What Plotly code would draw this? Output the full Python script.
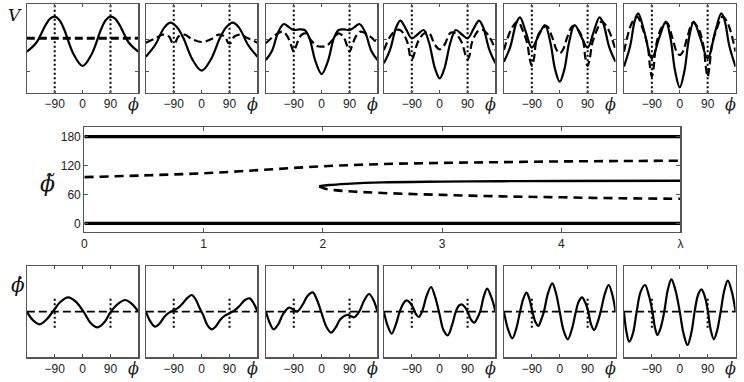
import plotly.graph_objects as go

# ---------------- data ----------------
phi_ticks = [-90, 0, 90]
phi_tick_text = ["\u221290", "0", "90"]
guide_phi = [-90, 90]
guide_span_bottom = [-4.8, 4.2]

# top row: V(phi) solid and dashed, six values of lambda
V1_phi = [-180, -150, -120, -105, -90, -75, -60, -30, 0, 30, 60, 75, 90, 105, 120, 150, 180]
V1_sol = [12.5, 15.1, 20.4, 22.4, 23.0, 22.0, 19.3, 11.9, 8.2, 11.9, 19.3, 22.0, 23.0, 22.4, 20.4, 15.1, 12.5]
V1d_phi = [-180, 180]
V1_dash = [16.5, 16.5]

V2_phi = [-180, -150, -120, -100, -80, -60, -30, 0, 30, 60, 80, 100, 120, 150, 180]
V2_sol = [11.0, 14.5, 19.8, 21.2, 19.9, 16.8, 10.2, 6.8, 10.2, 16.8, 19.9, 21.2, 19.8, 14.5, 11.0]
V2d_phi = [-180, -150, -125, -105, -95, -90, -85, -75, -55, -30, 0, 30, 55, 75, 85, 90, 95, 105, 125, 150, 180]
V2_dash = [15.2, 16.5, 17.6, 17.0, 15.2, 15.0, 15.2, 17.0, 17.6, 16.2, 15.4, 16.2, 17.6, 17.0, 15.2, 15.0, 15.2, 17.0, 17.6, 16.5, 15.2]

V3_phi = [-180, -160, -140, -122, -105, -90, -72, -55, -40, -20, 0, 20, 40, 55, 72, 90, 105, 122, 140, 160, 180]
V3_sol = [10.0, 12.8, 18.4, 20.8, 19.8, 19.0, 19.2, 19.0, 16.7, 9.6, 5.8, 9.6, 16.7, 19.0, 19.2, 19.0, 19.8, 20.8, 18.4, 12.8, 10.0]
V3d_phi = [-180, -150, -125, -110, -97, -90, -83, -70, -55, -35, -15, 0, 15, 35, 55, 70, 83, 90, 97, 110, 125, 150, 180]
V3_dash = [15.0, 17.5, 18.5, 17.0, 14.0, 12.5, 14.0, 17.0, 18.0, 16.0, 14.2, 14.0, 14.2, 16.0, 18.0, 17.0, 14.0, 12.5, 14.0, 17.0, 18.5, 17.5, 15.0]

V4_phi = [-180, -160, -140, -127, -110, -90, -70, -52, -35, -15, 0, 15, 35, 52, 70, 90, 110, 127, 140, 160, 180]
V4_sol = [9.0, 13.1, 19.9, 21.8, 19.5, 16.5, 17.8, 19.0, 15.4, 7.4, 4.5, 7.4, 15.4, 19.0, 17.8, 16.5, 19.5, 21.8, 19.9, 13.1, 9.0]
V4d_phi = [-180, -160, -140, -125, -105, -95, -90, -85, -70, -50, -35, -15, 0, 15, 35, 50, 70, 85, 90, 95, 105, 125, 140, 160, 180]
V4_dash = [13.0, 17.0, 19.0, 18.8, 15.5, 11.0, 10.2, 11.0, 15.5, 18.0, 18.2, 14.5, 13.2, 14.5, 18.2, 18.0, 15.5, 11.0, 10.2, 11.0, 15.5, 18.8, 19.0, 17.0, 13.0]

V5_phi = [-180, -160, -140, -128, -110, -90, -70, -48, -30, -15, 0, 15, 30, 48, 70, 90, 110, 128, 140, 160, 180]
V5_sol = [9.5, 13.8, 21.1, 22.8, 18.6, 13.7, 16.9, 20.5, 15.2, 7.2, 3.5, 7.2, 15.2, 20.5, 16.9, 13.7, 18.6, 22.8, 21.1, 13.8, 9.5]
V5d_phi = [-180, -155, -135, -120, -105, -97, -90, -83, -75, -60, -42, -25, -10, 0, 10, 25, 42, 60, 75, 83, 90, 97, 105, 120, 135, 155, 180]
V5_dash = [13.0, 19.5, 21.5, 19.0, 15.0, 10.5, 8.2, 10.5, 16.0, 19.0, 20.2, 17.0, 13.0, 12.0, 13.0, 17.0, 20.2, 19.0, 16.0, 10.5, 8.2, 10.5, 15.0, 19.0, 21.5, 19.5, 13.0]

V6_phi = [-180, -160, -145, -134, -115, -90, -65, -45, -30, -15, 0, 15, 30, 45, 65, 90, 115, 134, 145, 160, 180]
V6_sol = [8.0, 14.2, 21.8, 24.0, 18.7, 10.5, 17.0, 21.5, 16.6, 6.7, 1.8, 6.7, 16.6, 21.5, 17.0, 10.5, 18.7, 24.0, 21.8, 14.2, 8.0]
V6d_phi = [-180, -155, -138, -120, -103, -96, -90, -84, -77, -60, -42, -25, -10, 0, 10, 25, 42, 60, 77, 84, 90, 96, 103, 120, 138, 155, 180]
V6_dash = [12.5, 21.0, 23.0, 19.5, 14.0, 8.0, 5.0, 8.0, 14.0, 19.5, 21.2, 17.0, 12.5, 11.5, 12.5, 17.0, 21.2, 19.5, 14.0, 8.0, 5.0, 8.0, 14.0, 19.5, 23.0, 21.0, 12.5]

# middle: bifurcation diagram phi~ vs lambda
lam_edges = [0, 5]
phi_bottom_branch = [0, 0]
phi_top_branch = [180, 180]
lam_upper = [0, 0.5, 1, 1.5, 2, 2.5, 3, 3.5, 4, 4.5, 5]
phi_upper = [96, 99.5, 104, 111, 118.5, 123, 125.5, 127, 128.5, 129.3, 130]
lam_mid = [1.97, 2.05, 2.2, 2.5, 3, 3.5, 4, 5]
phi_mid = [77, 79.5, 82, 85, 86.5, 87.5, 88, 88.5]
lam_lower = [1.97, 2.02, 2.1, 2.25, 2.5, 3, 3.5, 4, 4.5, 5]
phi_lower = [77, 72, 69, 66, 63, 59, 56, 54, 52, 51]
lam_ticks = [0, 1, 2, 3, 4, 5]
lam_tick_text = ["0", "1", "2", "3", "4", "\u03bb"]
phit_ticks = [0, 60, 120, 180]

# bottom row: phi-dot(phi)
B1_phi = [-180, -160, -139, -118, -96, -72, -46, -22, 3, 25, 48, 70, 91, 115, 137, 158, 180]
B1_d = [0, -2.6, -3.8, -2.5, 0, 2.9, 4.3, 3.0, 0, -3.3, -4.7, -3.2, 0, 2.4, 3.5, 2.4, 0]

B2_phi = [-180, -165, -150, -135, -120, -105, -90, -75, -60, -45, -32, -20, -5, 5, 18, 32, 45, 60, 75, 90, 105, 120, 140, 155, 168, 180]
B2_d = [0, -3.0, -4.5, -3.5, -1.5, -0.3, 0.4, 1.2, 2.6, 4.2, 5.0, 3.8, 0.8, -1.0, -4.0, -5.3, -4.5, -2.5, -1.2, -0.5, 0.3, 1.5, 3.5, 4.0, 2.5, 0]

B3_phi = [-180, -167, -155, -140, -125, -105, -90, -78, -60, -45, -29, -15, 0, 15, 30, 45, 60, 81, 95, 105, 121, 138, 153, 167, 180]
B3_d = [0, -3.5, -5.3, -3.8, -0.8, 1.2, 0.5, 0.1, 2.3, 4.8, 5.8, 3.5, -0.5, -4.5, -6.3, -4.8, -2.3, -1.0, -1.4, -1.7, 0, 3.5, 5.3, 3.5, 0]

B4_phi = [-180, -167, -155, -142, -129, -117, -107, -95, -85, -76, -67, -55, -42, -28, -15, 0, 12, 26, 40, 52, 62, 71, 80, 90, 100, 111, 122, 132, 142, 153, 166, 180]
B4_d = [0, -4.5, -6.6, -4.0, 0, 2.5, 3.4, 2.6, 1.0, -0.8, -1.6, 0.5, 4.8, 7.4, 4.5, -1.0, -5.5, -7.1, -4.0, 0, 1.8, 2.2, 1.5, 0.0, -2.2, -3.3, -1.8, 0.5, 4.5, 6.9, 4.5, 0]

B5_phi = [-180, -166, -153, -140, -128, -117, -107, -97, -88, -78, -69, -60, -51, -38, -24, -12, 0, 12, 26, 40, 52, 62, 72, 82, 92, 101, 111, 121, 132, 146, 158, 170, 180]
B5_d = [0, -5.5, -8.0, -5.0, 0, 4.0, 5.7, 3.5, 0, -3.2, -4.3, -2.5, 0, 5.5, 8.5, 5.5, 0, -5.5, -8.3, -5.0, 0, 3.2, 4.3, 2.8, 0, -3.8, -5.5, -3.5, 0, 5.5, 8.0, 5.0, 0]

B6_phi = [-180, -172, -163, -151, -139, -126, -112, -100, -88, -80, -72, -62, -50, -38, -27, -14, 0, 12, 25, 37, 48, 59, 70, 81, 91, 100, 110, 121, 132, 144, 155, 168, 180]
B6_d = [0, -6.0, -9.0, -6.5, 0, 6.0, 8.0, 5.0, 0, -4.8, -7.0, -5.0, 0, 6.8, 9.7, 6.5, 0, -6.5, -10.0, -6.5, 0, 5.0, 6.7, 4.5, 0, -5.5, -8.3, -5.5, 0, 6.5, 9.3, 6.0, 0]

top_solid = [(V1_phi, V1_sol), (V2_phi, V2_sol), (V3_phi, V3_sol), (V4_phi, V4_sol), (V5_phi, V5_sol), (V6_phi, V6_sol)]
top_dash = [(V1d_phi, V1_dash), (V2d_phi, V2_dash), (V3d_phi, V3_dash), (V4d_phi, V4_dash), (V5d_phi, V5_dash), (V6d_phi, V6_dash)]
bottom = [(B1_phi, B1_d), (B2_phi, B2_d), (B3_phi, B3_d), (B4_phi, B4_d), (B5_phi, B5_d), (B6_phi, B6_d)]

# ---------------- layout ----------------
W, H = 744, 382
panel_left_px = [24, 144, 265, 384, 505, 626]
panel_w = 112.5
top_dom = [1 - 92.7 / H, 1 - 4 / H]
mid_dom = [1 - 232 / H, 1 - 127 / H]
bot_dom = [1 - 357.3 / H, 1 - 266 / H]
mid_x_dom = [82 / W, 683 / W]

FRAME = "#555555"
TICKFONT = dict(family="Liberation Sans, Arial, sans-serif", size=12, color="#222222")
SERIF = "DejaVu Serif, Liberation Serif, serif"

fig = go.Figure()
layout = dict(width=W, height=H, margin=dict(l=0, r=0, t=0, b=0),
              paper_bgcolor="white", plot_bgcolor="white", showlegend=False)
shapes = []
annotations = []


def ax_names(k):
    return ("x" if k == 1 else f"x{k}"), ("y" if k == 1 else f"y{k}")


def key(name):
    return name[0] + "axis" + name[1:]


base_axis = dict(showgrid=False, zeroline=False, showline=True, linecolor=FRAME, linewidth=1.2,
                 mirror="ticks", ticks="inside", tickcolor=FRAME, ticklen=3, tickwidth=1,
                 tickfont=TICKFONT, fixedrange=True)

# top panels
for i in range(6):
    k = i + 1
    xn, yn = ax_names(k)
    xd = [panel_left_px[i] / W, (panel_left_px[i] + panel_w) / W]
    layout[key(xn)] = dict(base_axis, domain=xd, anchor=yn, range=[-180, 180],
                           tickvals=phi_ticks, ticktext=phi_tick_text)
    layout[key(yn)] = dict(base_axis, domain=top_dom, anchor=xn, range=[0.2, 26.8],
                           tickvals=[6.5, 16.2], showticklabels=False)
    for p in guide_phi:
        shapes.append(dict(type="line", xref=xn, yref=yn + " domain", x0=p, x1=p, y0=0, y1=1,
                           line=dict(color="black", width=2, dash="2px,2.5px"), layer="below"))
    px, py = top_dash[i]
    fig.add_trace(go.Scatter(x=px, y=py, xaxis=xn, yaxis=yn, mode="lines",
                             line=dict(color="black", width=3 if i == 0 else 2.2,
                                       dash="8px,4px", shape="spline"), hoverinfo="skip"))
    sx, sy = top_solid[i]
    fig.add_trace(go.Scatter(x=sx, y=sy, xaxis=xn, yaxis=yn, mode="lines",
                             line=dict(color="black", width=2.2, shape="spline"), hoverinfo="skip"))
    annotations.append(dict(text="<i>\u03d5</i>", xref="paper", yref="paper",
                            x=(panel_left_px[i] + panel_w - 5) / W, y=1 - 105 / H,
                            showarrow=False, font=dict(family=SERIF, size=16, color="#222"),
                            xanchor="center", yanchor="middle"))

# middle panel
k = 7
xn, yn = ax_names(k)
layout[key(xn)] = dict(base_axis, domain=mid_x_dom, anchor=yn, range=[0, 5],
                       tickvals=lam_ticks, ticktext=lam_tick_text, ticklen=4)
layout[key(yn)] = dict(base_axis, domain=mid_dom, anchor=xn, range=[-18, 200],
                       tickvals=phit_ticks, ticklen=4)
for yy in (phi_bottom_branch, phi_top_branch):
    fig.add_trace(go.Scatter(x=lam_edges, y=yy, xaxis=xn, yaxis=yn, mode="lines",
                             line=dict(color="black", width=3.2), hoverinfo="skip"))
fig.add_trace(go.Scatter(x=lam_upper, y=phi_upper, xaxis=xn, yaxis=yn, mode="lines",
                         line=dict(color="black", width=2.6, dash="9px,6px", shape="spline"),
                         hoverinfo="skip"))
fig.add_trace(go.Scatter(x=lam_lower, y=phi_lower, xaxis=xn, yaxis=yn, mode="lines",
                         line=dict(color="black", width=2.6, dash="9px,6px", shape="spline"),
                         hoverinfo="skip"))
fig.add_trace(go.Scatter(x=lam_mid, y=phi_mid, xaxis=xn, yaxis=yn, mode="lines",
                         line=dict(color="black", width=2.4, shape="spline"), hoverinfo="skip"))

# bottom panels
for i in range(6):
    k = 8 + i
    xn, yn = ax_names(k)
    xd = [panel_left_px[i] / W, (panel_left_px[i] + panel_w) / W]
    layout[key(xn)] = dict(base_axis, domain=xd, anchor=yn, range=[-180, 180],
                           tickvals=phi_ticks, ticktext=phi_tick_text)
    layout[key(yn)] = dict(base_axis, domain=bot_dom, anchor=xn, range=[-13.7, 13.7],
                           ticks="", showticklabels=False)
    for p in guide_phi:
        shapes.append(dict(type="line", xref=xn, yref=yn, x0=p, x1=p,
                           y0=guide_span_bottom[0], y1=guide_span_bottom[1],
                           line=dict(color="black", width=2, dash="2px,2.5px"), layer="below"))
    shapes.append(dict(type="line", xref=xn + " domain", yref=yn, x0=0, x1=1, y0=0, y1=0,
                       line=dict(color="black", width=1.6, dash="8px,4px"), layer="below"))
    bx, by = bottom[i]
    fig.add_trace(go.Scatter(x=bx, y=by, xaxis=xn, yaxis=yn, mode="lines",
                             line=dict(color="black", width=2.2, shape="spline"), hoverinfo="skip"))
    annotations.append(dict(text="<i>\u03d5</i>", xref="paper", yref="paper",
                            x=(panel_left_px[i] + panel_w - 5) / W, y=1 - 368 / H,
                            showarrow=False, font=dict(family=SERIF, size=16, color="#222"),
                            xanchor="center", yanchor="middle"))

# axis symbols (combining tilde / dot above kept in the same text)
annotations.append(dict(text="<i>V</i>", xref="paper", yref="paper", x=12 / W, y=1 - 15 / H,
                        showarrow=False, font=dict(family=SERIF, size=17, color="#111"),
                        xanchor="center", yanchor="middle"))
annotations.append(dict(text="<i>\u03d5\u0303</i>", xref="paper", yref="paper", x=45 / W, y=1 - 183 / H,
                        showarrow=False, font=dict(family=SERIF, size=22, color="#111"),
                        xanchor="center", yanchor="middle"))
annotations.append(dict(text="<i>\u03d5\u0307</i>", xref="paper", yref="paper", x=15 / W, y=1 - 285 / H,
                        showarrow=False, font=dict(family=SERIF, size=20, color="#111"),
                        xanchor="center", yanchor="middle"))

layout["shapes"] = shapes
layout["annotations"] = annotations
fig.update_layout(**layout)
fig.write_html("out.html", config={"displayModeBar": False, "staticPlot": True})

# remove the browser's default page margin so the figure fills the window exactly
with open("out.html", "r", encoding="utf-8") as f:
    html = f.read()
html = html.replace("<head>", "<head><style>html,body{margin:0;padding:0;overflow:hidden;}</style>", 1)
with open("out.html", "w", encoding="utf-8") as f:
    f.write(html)
